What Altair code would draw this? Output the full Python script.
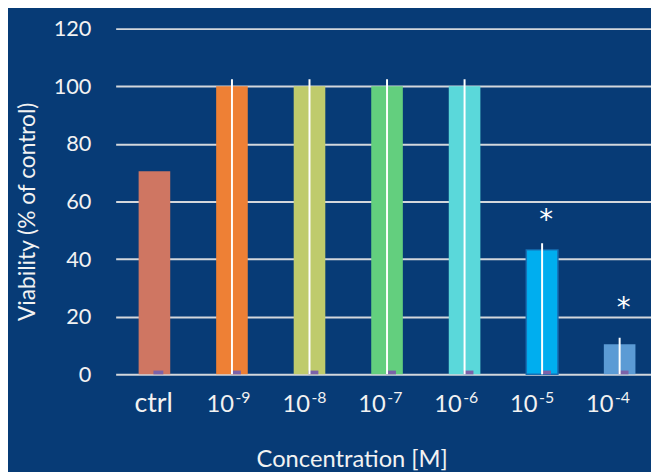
import altair as alt
import pandas as pd

# ---- data ----
categories = ["ctrl", "10⁻⁹", "10⁻⁸", "10⁻⁷", "10⁻⁶", "10⁻⁵", "10⁻⁴"]
cat_index = [0, 1, 2, 3, 4, 5, 6]
label_base = ["ctrl", "10", "10", "10", "10", "10", "10"]
label_exp = ["", "-9", "-8", "-7", "-6", "-5", "-4"]
viability = [70.5, 100, 100, 100, 100, 43.2, 10.4]
err_lower = [None, 0, 0, 0, 0, 0, 0]
err_upper = [None, 102.4, 102.4, 102.4, 102.4, 45.5, 12.7]
marker_values = [1.3, 1.3, 1.3, 1.3, 1.3, 1.3, 1.3]
star_labels = ["", "", "", "", "", "*", "*"]
star_y = [None, None, None, None, None, 50.5, 20]
bar_colors = ["#CF7662", "#EE8035", "#BFCB6C", "#63CF7E", "#5AD8DA", "#00AEEF", "#5B9BD5"]

df = pd.DataFrame({
    "cat": categories,
    "i": cat_index,
    "base": label_base,
    "exp": label_exp,
    "val": viability,
    "lo": err_lower,
    "hi": err_upper,
    "mk": marker_values,
    "star": star_labels,
    "sy": star_y,
})

FONT = "Lato"
TXT = "#F2F2F2"
BG = "#073B76"

# bars: one category every 78.5 px in a 542 px plot (last slot runs off the edge)
xscale = alt.Scale(domain=[-0.5, 6.4045], nice=False, zero=False, padding=0)
# category labels sit on a slightly tighter pitch than the bars
lblscale = alt.Scale(domain=[-0.5011, 6.5535], nice=False, zero=False, padding=0)
yscale = alt.Scale(domain=[0, 120], nice=False)

x_enc = alt.X(
    "i:Q", scale=xscale,
    axis=alt.Axis(
        title="Concentration [M]", labels=False, ticks=False, domain=False, grid=False,
        titleFont=FONT, titleFontSize=24, titleFontWeight="normal", titleColor=TXT,
        titleX=239, titleY=93, titleBaseline="alphabetic", titleAnchor="middle",
        titleAlign="center",
    ),
)

y_axis = alt.Axis(
    title="Viability (% of control)", values=[0, 20, 40, 60, 80, 100, 120],
    ticks=False, domain=False, grid=True, gridColor="#D3D7DC", gridWidth=2,
    labelFont=FONT, labelFontSize=22, labelColor=TXT, labelPadding=25,
    titleFont=FONT, titleFontSize=23, titleFontWeight="normal", titleColor=TXT,
    titleX=-82, titleY=185, titleBaseline="alphabetic", titleAlign="center",
    titleAngle=270,
)

def xs(scale=xscale):
    return alt.X("i:Q", scale=scale, axis=None)

bars = alt.Chart(df).mark_bar(size=32, stroke="#1670B5").encode(
    x=x_enc,
    y=alt.Y("val:Q", scale=yscale, axis=y_axis),
    color=alt.Color("cat:N", scale=alt.Scale(domain=categories, range=bar_colors), legend=None),
    strokeWidth=alt.condition(alt.datum.cat == "10⁻⁵", alt.value(1.5), alt.value(0)),
)

markers = alt.Chart(df).mark_bar(size=10, color="#7B62A8", xOffset=4).encode(
    x=xs(),
    y=alt.Y("mk:Q", scale=yscale),
)

errs = alt.Chart(df).transform_filter("datum.hi != null").mark_rule(
    color="#FFFFFF", strokeWidth=2
).encode(
    x=xs(),
    y=alt.Y("lo:Q", scale=yscale),
    y2="hi:Q",
)

stars = alt.Chart(df).transform_filter("datum.sy != null").mark_text(
    font="DejaVu Sans", fontSize=28, color="#FFFFFF", baseline="alphabetic", dx=4
).encode(
    x=xs(),
    y=alt.Y("sy:Q", scale=yscale),
    text="star:N",
)

# category labels (base text + superscript exponent)
ctrl_lbl = alt.Chart(df).transform_filter("datum.exp == ''").mark_text(
    font=FONT, fontSize=27, color=TXT, baseline="alphabetic", align="center"
).encode(x=xs(lblscale), y=alt.value(388), text="base:N")

base_lbl = alt.Chart(df).transform_filter("datum.exp != ''").mark_text(
    font=FONT, fontSize=24, color=TXT, baseline="alphabetic", align="right", dx=4.5
).encode(x=xs(lblscale), y=alt.value(388), text="base:N")

exp_lbl = alt.Chart(df).transform_filter("datum.exp != ''").mark_text(
    font=FONT, fontSize=16, color=TXT, baseline="alphabetic", align="left", dx=6
).encode(x=xs(lblscale), y=alt.value(379), text="exp:N")

chart = alt.layer(bars, markers, errs, stars, ctrl_lbl, base_lbl, exp_lbl).resolve_scale(
    x="independent"
).properties(
    width=542, height=350,
    background=BG,
    autosize=alt.AutoSizeParams(type="none"),
    padding={"left": 109, "top": 18, "right": 0, "bottom": 96},
).configure_view(stroke=None)

chart.save("out.html", embed_options={"renderer": "svg", "actions": False})
